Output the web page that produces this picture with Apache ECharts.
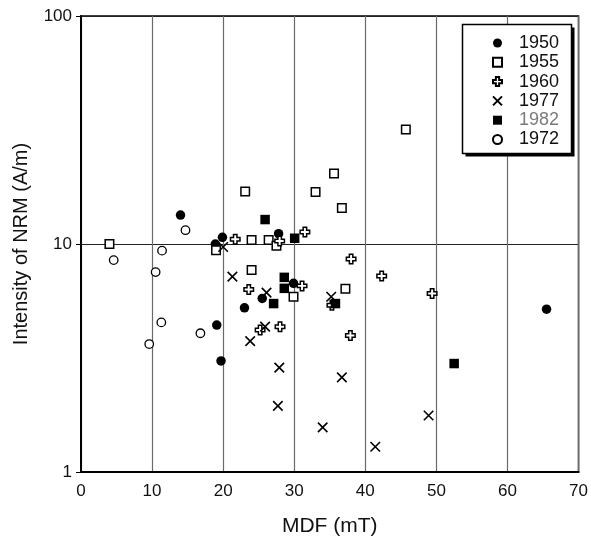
<!DOCTYPE html>
<html>
<head>
<meta charset="utf-8">
<script src="https://cdn.jsdelivr.net/npm/echarts@6/dist/echarts.min.js"></script>
<style>
html,body{margin:0;padding:0;background:#fff;}
#chart{width:591px;height:542px;}
</style>
</head>
<body>
<div id="chart"></div>
<script>
// Data (MDF in mT, NRM intensity in A/m)
const years = ['1950', '1955', '1960', '1977', '1982', '1972'];
const xTicks = [0, 10, 20, 30, 40, 50, 60, 70];
const yTicks = [1, 10, 100];

const mdf1950 = [14.0, 18.9, 19.9, 27.8, 25.5, 23.0, 29.9, 19.1, 19.7, 65.5];
const nrm1950 = [13.4, 10.0, 10.7, 11.1, 5.77, 5.25, 6.72, 4.41, 3.07, 5.18];

const mdf1955 = [4.0, 19.0, 23.1, 24.0, 26.4, 27.5, 24.0, 29.9, 33.0, 35.6, 36.7, 37.2, 45.7];
const nrm1955 = [10.0, 9.39, 17.0, 10.4, 10.4, 9.83, 7.69, 5.87, 16.9, 20.4, 14.4, 6.37, 31.8];

const mdf1960 = [21.7, 27.95, 31.5, 23.6, 31.1, 25.2, 28.0, 38.0, 35.3, 37.9, 42.3, 49.4];
const nrm1960 = [10.5, 10.3, 11.3, 6.31, 6.55, 4.2, 4.34, 8.6, 5.39, 3.97, 7.24, 6.06];

const mdf1977 = [20.0, 21.3, 26.1, 25.9, 23.8, 27.9, 27.7, 34.0, 35.2, 36.7, 41.4, 48.9];
const nrm1977 = [9.7, 7.19, 6.12, 4.34, 3.75, 2.87, 1.95, 1.57, 5.87, 2.6, 1.29, 1.77];

const mdf1982 = [25.9, 30.06, 28.6, 28.6, 27.1, 35.8, 52.5];
const nrm1982 = [12.8, 10.6, 7.14, 6.39, 5.48, 5.48, 2.99];

const mdf1972 = [14.7, 4.6, 11.4, 10.5, 11.3, 9.6, 16.8];
const nrm1972 = [11.5, 8.5, 9.35, 7.53, 4.53, 3.64, 4.06];

function zip(xs, ys) { return xs.map((x, i) => [x, ys[i]]); }

const FONT = "'Liberation Sans', Arial, Helvetica, sans-serif";
const plusPath = 'path://M3.5,0 L7.5,0 L7.5,3.5 L11,3.5 L11,7.5 L7.5,7.5 L7.5,11 L3.5,11 L3.5,7.5 L0,7.5 L0,3.5 L3.5,3.5 Z';
const crossPath = 'path://M0,0 L10,10 M10,0 L0,10';

const chart = echarts.init(document.getElementById('chart'), null, {renderer: 'canvas'});
chart.setOption({
  animation: false,
  backgroundColor: '#fff',
  grid: {left: 81, right: 12, top: 16, bottom: 66, show: true, borderColor: '#000', borderWidth: 1.5, backgroundColor: 'transparent'},
  graphic: [
    {type: 'rect', z: 3, shape: {x: 465.5, y: 27.5, width: 109, height: 129}, style: {fill: '#000'}},
    {type: 'rect', z: 3, shape: {x: 462.5, y: 24.5, width: 109, height: 129}, style: {fill: '#fff', stroke: '#000', lineWidth: 1.5}}
  ],
  xAxis: {
    type: 'value', min: xTicks[0], max: xTicks[xTicks.length - 1], interval: 10,
    name: 'MDF (mT)', nameLocation: 'middle', nameGap: 44,
    nameTextStyle: {fontFamily: FONT, fontSize: 21, color: '#111'},
    axisLine: {show: true, lineStyle: {color: '#000', width: 2}},
    axisTick: {show: false},
    axisLabel: {fontFamily: FONT, fontSize: 17, color: '#111', margin: 11},
    splitLine: {show: true, lineStyle: {color: '#6a6a6a', width: 1.2}}
  },
  yAxis: {
    type: 'log', logBase: 10, min: yTicks[0], max: yTicks[yTicks.length - 1],
    name: 'Intensity of NRM (A/m)', nameLocation: 'middle', nameGap: 50,
    nameTextStyle: {fontFamily: FONT, fontSize: 20, color: '#111'},
    axisLine: {show: true, lineStyle: {color: '#000', width: 2}},
    axisTick: {show: true, length: 5, lineStyle: {color: '#000', width: 1}},
    axisLabel: {fontFamily: FONT, fontSize: 17, color: '#111', margin: 9},
    splitLine: {show: true, lineStyle: {color: '#222', width: 1}},
    minorTick: {show: false}, minorSplitLine: {show: false}
  },
  legend: {
    orient: 'vertical', left: 462, top: 26,
    padding: [8, 13, 7, 30], z: 5,
    itemWidth: 9, itemHeight: 9, itemGap: 1.3, itemTextGap: 5,
    backgroundColor: 'transparent', borderWidth: 0,
    textStyle: {fontFamily: FONT, fontSize: 18, color: '#111', padding: [0, 0, 0, 12]},
    data: years.map(y => y === '1982' ? {name: y, textStyle: {color: '#7a7a7a', padding: [0, 0, 0, 12]}} : {name: y})
  },
  series: [
    {name: years[0], type: 'scatter', data: zip(mdf1950, nrm1950), symbol: 'circle', symbolSize: 9.5,
      itemStyle: {color: '#000', borderColor: '#000', borderWidth: 0, opacity: 1}},
    {name: years[1], type: 'scatter', data: zip(mdf1955, nrm1955), symbol: 'rect', symbolSize: 8.5,
      itemStyle: {color: '#fff', borderColor: '#000', borderWidth: 1.5, opacity: 1}},
    {name: years[2], type: 'scatter', data: zip(mdf1960, nrm1960), symbol: plusPath, symbolSize: 9.5,
      itemStyle: {color: '#fff', borderColor: '#000', borderWidth: 1.5, opacity: 1}},
    {name: years[3], type: 'scatter', data: zip(mdf1977, nrm1977), symbol: crossPath, symbolSize: 9.5,
      itemStyle: {color: '#000', borderColor: '#000', borderWidth: 1.6, opacity: 1}},
    {name: years[4], type: 'scatter', data: zip(mdf1982, nrm1982), symbol: 'rect', symbolSize: 9.5,
      itemStyle: {color: '#000', borderColor: '#000', borderWidth: 0, opacity: 1}},
    {name: years[5], type: 'scatter', data: zip(mdf1972, nrm1972), symbol: 'circle', symbolSize: 8.5,
      itemStyle: {color: '#fff', borderColor: '#000', borderWidth: 1.3, opacity: 1}}
  ]
});
</script>
</body>
</html>
